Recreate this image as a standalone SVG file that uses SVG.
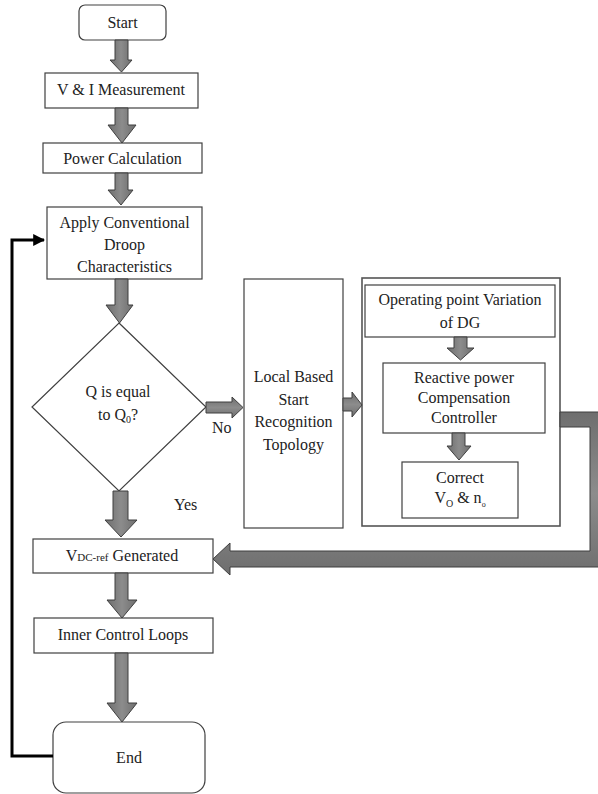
<svg xmlns="http://www.w3.org/2000/svg" width="598" height="794" viewBox="0 0 598 794" font-family="'Liberation Serif', 'Times New Roman', serif">
<style>
.box{fill:#fff;stroke:#404040;stroke-width:1.2}
.outer{fill:none;stroke:#555;stroke-width:1.6}
text{font-family:'Liberation Serif','Times New Roman',serif;font-size:16px;fill:#222}
.t{text-anchor:middle}
.arr{fill:url(#g);stroke:#3f3f3f;stroke-width:1}
.arrh{fill:url(#gh);stroke:#3f3f3f;stroke-width:1}
.loop{fill:none;stroke:#000;stroke-width:3}
</style>
<defs>
<linearGradient id="g" x1="0" y1="0" x2="1" y2="0">
<stop offset="0" stop-color="#6e6e6e"/><stop offset="0.5" stop-color="#8c8c8c"/><stop offset="1" stop-color="#6e6e6e"/>
</linearGradient>
<linearGradient id="gh" x1="0" y1="0" x2="0" y2="1">
<stop offset="0" stop-color="#6e6e6e"/><stop offset="0.5" stop-color="#8c8c8c"/><stop offset="1" stop-color="#6e6e6e"/>
</linearGradient>
<marker id="ah" viewBox="0 0 10 10" refX="9" refY="5" markerWidth="4" markerHeight="4" orient="auto">
<path d="M0,0 L10,5 L0,10 Z" fill="#000"/>
</marker>
</defs>

<g id="start">
<rect class="box" x="79" y="5" width="87" height="35" rx="6"/>
<text class="t" x="122.5" y="28">Start</text>
</g>
<g id="measure">
<rect class="box" x="45" y="73" width="153" height="35"/>
<text class="t" x="121" y="95">V &amp; I Measurement</text>
</g>
<g id="power">
<rect class="box" x="43" y="143" width="159" height="30"/>
<text class="t" x="122.5" y="164">Power Calculation</text>
</g>
<g id="droop">
<rect class="box" x="47" y="207" width="155" height="72"/>
<text class="t" x="124.5" y="228">Apply Conventional</text>
<text class="t" x="124.5" y="250">Droop</text>
<text class="t" x="124.5" y="272">Characteristics</text>
</g>
<g id="decision">
<polygon class="box" points="119,323 206,407 119,491 32,407"/>
<text class="t" x="118" y="397">Q is equal</text>
<text class="t" x="118" y="420">to Q<tspan font-size="10" dy="3">0</tspan><tspan dy="-3">?</tspan></text>
<text x="212" y="433">No</text>
<text x="174" y="510">Yes</text>
</g>
<g id="local">
<rect class="box" x="244" y="279" width="99" height="249"/>
<text class="t" x="293.5" y="382">Local Based</text>
<text class="t" x="293.5" y="405">Start</text>
<text class="t" x="293.5" y="427">Recognition</text>
<text class="t" x="293.5" y="450">Topology</text>
</g>
<g id="compensation">
<rect class="outer" x="362" y="278" width="198" height="248"/>
<g id="operating">
<rect class="box" x="365" y="285" width="190" height="52"/>
<text class="t" x="460" y="305">Operating point Variation</text>
<text class="t" x="460" y="328">of DG</text>
</g>
<g id="reactive">
<rect class="box" x="383" y="363" width="162" height="70"/>
<text class="t" x="464" y="383">Reactive power</text>
<text class="t" x="464" y="403">Compensation</text>
<text class="t" x="464" y="423">Controller</text>
</g>
<g id="correct">
<rect class="box" x="402" y="462" width="116" height="56"/>
<text class="t" x="460" y="483">Correct</text>
<text class="t" x="460" y="503">V<tspan font-size="10" dy="4">O</tspan><tspan dy="-4"> &amp; n</tspan><tspan font-size="8" dy="4">o</tspan></text>
</g>
</g>
<g id="vdc">
<rect class="box" x="33" y="539" width="180" height="34"/>
<text class="t" x="122" y="561">V<tspan font-size="11">DC-ref</tspan> Generated</text>
</g>
<g id="inner">
<rect class="box" x="34" y="618" width="179" height="35"/>
<text class="t" x="123" y="640">Inner Control Loops</text>
</g>
<g id="end">
<rect class="box" x="53" y="722" width="152" height="71" rx="13"/>
<text class="t" x="129" y="763">End</text>
</g>

<g id="connectors">
<path class="arr" d="M115,40 H128 V60 H132 L121.5,72 L110,60 H115 Z"/>
<path class="arr" d="M115,108 H128 V125 H136 L122,143 L108,125 H115 Z"/>
<path class="arr" d="M115,173 H128 V190 H133 L121,205 L108,190 H115 Z"/>
<path class="arr" d="M115,279 H128 V305 H133 L119.5,323 L106,305 H115 Z"/>
<path class="arrh" d="M206,402 H232 V397 L243,407.5 L232,418 V413 H206 Z"/>
<path class="arr" d="M113,491 H128 V520 H137 L121,537 L105,520 H113 Z"/>
<path class="arrh" d="M343,398 H352 V392 L362,405 L352,417 V411 H343 Z"/>
<path class="arr" d="M454,337 H467 V348 H474 L460.5,360 L447,348 H454 Z"/>
<path class="arr" d="M452,433 H465 V446 H471 L459,460 L447,446 H452 Z"/>
<path class="arrh" d="M560,412 H600 V567 H230 V575 L213,559 L230,543 V551 H590 V427 H560 Z"/>
<path class="arr" d="M115,573 H128 V600 H137 L122,618 L107,600 H115 Z"/>
<path class="arr" d="M115,653 H128 V703 H137 L122,722 L107,703 H115 Z"/>
<path class="loop" d="M53,756 H12 V240 H44" marker-end="url(#ah)"/>
</g>
</svg>
